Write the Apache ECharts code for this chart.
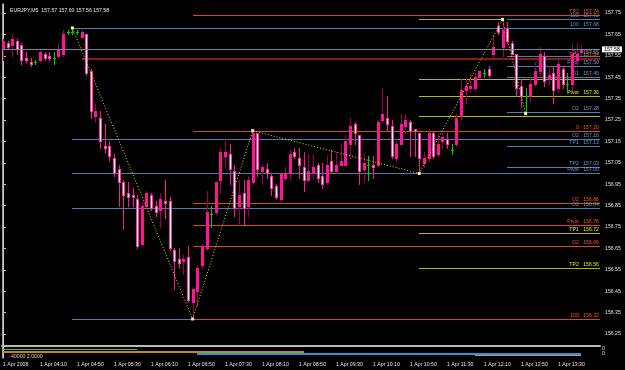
<!DOCTYPE html>
<html><head><meta charset="utf-8">
<script src="https://cdn.jsdelivr.net/npm/echarts@6/dist/echarts.min.js"></script>
<style>html,body{margin:0;padding:0;background:#000;}#c{width:625px;height:370px;}</style>
</head><body><div id="c"></div>
<script>
// ---------- DATA ----------
const openP = [157.58,157.61,157.60,157.62,157.60,157.54,157.52,157.52,157.53,157.56,
157.55,157.54,157.55,157.56,157.66,157.66,157.66,157.64,157.65,157.48,
157.27,157.26,157.13,157.13,157.07,157.02,156.96,156.91,156.90,156.88,
156.67,156.85,156.90,156.85,156.83,156.87,156.87,156.64,156.60,156.59,
156.61,156.40,156.45,156.57,156.65,156.81,156.82,156.97,157.08,157.09,
157.01,156.85,156.91,156.85,156.96,157.19,157.01,157.02,156.99,156.94,
156.88,156.98,157.00,157.10,157.07,157.03,156.97,157.00,157.04,156.99,
156.96,157.06,157.01,157.04,157.04,157.14,157.23,157.18,157.02,157.04,
157.04,157.04,157.25,157.26,157.22,157.07,157.14,157.22,157.24,157.21,
157.19,157.05,157.07,157.19,157.09,157.15,157.16,157.11,157.14,157.27,
157.39,157.40,157.40,157.45,157.47,157.49,157.56,157.69,157.59,157.68,
157.61,157.56,157.41,157.36,157.36,157.42,157.48,157.55,157.44,157.47,
157.40,157.49,157.42,157.42,157.53,157.57];
const highP = [157.63,157.62,157.65,157.63,157.61,157.57,157.54,157.53,157.58,157.57,
157.57,157.57,157.61,157.67,157.67,157.68,157.67,157.67,157.65,157.49,
157.33,157.29,157.23,157.15,157.09,157.04,156.97,156.96,156.93,156.90,
156.87,156.92,156.91,156.87,156.91,156.97,156.89,156.65,156.65,156.62,
156.66,156.47,156.57,156.67,156.92,156.85,156.96,157.12,157.16,157.14,
157.04,156.97,156.97,156.99,157.20,157.19,157.04,157.05,157.00,156.95,
157.00,157.03,157.11,157.12,157.12,157.10,157.09,157.09,157.05,157.05,
157.08,157.11,157.10,157.14,157.18,157.26,157.24,157.18,157.09,157.08,
157.08,157.25,157.40,157.36,157.25,157.16,157.28,157.28,157.25,157.21,
157.19,157.10,157.21,157.20,157.19,157.19,157.19,157.14,157.28,157.44,
157.44,157.47,157.47,157.48,157.49,157.50,157.65,157.71,157.72,157.71,
157.62,157.56,157.44,157.40,157.45,157.52,157.59,157.57,157.50,157.50,
157.53,157.50,157.47,157.61,157.61,157.60];
const lowP = [157.53,157.58,157.55,157.56,157.51,157.52,157.50,157.51,157.52,157.53,
157.53,157.51,157.54,157.55,157.65,157.65,157.65,157.64,157.46,157.26,
157.24,157.12,157.10,157.06,156.99,156.85,156.74,156.85,156.85,156.65,
156.66,156.84,156.83,156.80,156.75,156.79,156.64,156.46,156.56,156.53,
156.40,156.32,156.38,156.56,156.64,156.75,156.81,156.91,157.03,156.95,
156.80,156.76,156.76,156.80,156.95,156.99,156.95,156.98,156.90,156.88,
156.87,156.97,156.97,157.07,156.98,156.92,156.97,156.98,156.96,156.93,
156.95,157.00,157.00,157.04,157.04,157.07,157.14,156.95,156.96,156.97,
156.98,157.04,157.24,157.20,157.07,157.06,157.14,157.19,157.08,157.08,
157.00,157.03,157.06,157.07,157.08,157.12,157.12,157.09,157.13,157.25,
157.33,157.38,157.39,157.45,157.45,157.45,157.54,157.65,157.55,157.61,
157.56,157.36,157.31,157.29,157.34,157.41,157.46,157.41,157.42,157.33,
157.38,157.40,157.38,157.39,157.50,157.56];
const closeP = [157.62,157.59,157.63,157.58,157.53,157.53,157.51,157.52,157.57,157.54,
157.54,157.54,157.58,157.65,157.66,157.66,157.66,157.66,157.47,157.29,
157.29,157.15,157.12,157.08,157.00,156.96,156.90,156.89,156.89,156.66,
156.85,156.91,156.84,156.82,156.88,156.86,156.65,156.59,156.58,156.60,
156.41,156.46,156.56,156.66,156.82,156.81,156.96,157.10,157.10,157.02,
156.84,156.90,156.84,156.97,157.19,157.02,157.03,157.00,156.93,156.89,
157.00,157.00,157.09,157.08,157.04,156.97,157.01,157.03,156.98,156.95,
157.04,157.01,157.04,157.06,157.15,157.22,157.19,157.01,157.05,157.04,
157.03,157.24,157.28,157.23,157.08,157.14,157.23,157.25,157.20,157.20,
157.07,157.07,157.19,157.08,157.14,157.17,157.14,157.11,157.26,157.39,
157.41,157.41,157.45,157.48,157.47,157.46,157.59,157.66,157.67,157.62,
157.56,157.40,157.36,157.36,157.42,157.48,157.56,157.43,157.46,157.39,
157.51,157.42,157.42,157.56,157.56,157.58];

const timeTickBars = [0,8,16,24,32,40,48,56,64,72,80,88,96,104,112,120];
const timeTickLabels = ['1 Apr 2008','1 Apr 04:10','1 Apr 04:50','1 Apr 05:30','1 Apr 06:10','1 Apr 06:50',
  '1 Apr 07:30','1 Apr 08:10','1 Apr 08:50','1 Apr 09:30','1 Apr 10:10','1 Apr 10:50','1 Apr 11:30',
  '1 Apr 12:10','1 Apr 12:50','1 Apr 13:30'];
const priceTicks = [156.25,156.35,156.45,156.55,156.65,156.75,156.85,156.95,157.05,157.15,157.25,157.35,157.45,157.55,157.65,157.75];

const zigzagBars = [15,41,54,90,108,113];
const zigzagPrices = [157.68,156.32,157.20,157.00,157.72,157.28];

const bidPrice = 157.58;
const titleText = 'EURJPY,M5  157.57 157.60 157.56 157.58';

// level lines: name, price, first bar, last bar (null = right edge), group
const levelNames  = ['TP2','100','','100','O1','TP1','Pivot','O1','','Pivot','O2','','0','O2','TP1','TP2','Pivot','O2','O2','Pivot','TP1','O2','TP2','','100'];
const levelPrices = [157.74,157.72,157.72,157.68,157.55,157.535,157.50,157.45,157.44,157.36,157.285,157.27,157.20,157.16,157.13,157.03,157.00,156.86,156.84,156.76,156.72,156.66,156.56,156.32,156.32];
const levelLabelPrices = ['157.74','157.72','','157.68','157.55','157.54','157.50','157.45','','157.36','157.28','','157.20','157.16','157.13','157.03','157.00','156.86','156.84','156.76','156.72','156.66','156.56','','156.32'];
const levelFrom   = [41,109,90,15,109,17,109,109,90,90,109,90,41,15,109,109,15,41,15,41,90,41,90,15,41];
const levelTo     = [null,null,108,null,null,null,null,null,null,null,null,null,null,null,null,null,null,null,null,null,null,null,null,41,null];
const levelGroup  = ['orange','steel','yellow','steel','steel','red','steel','steel','yellow','yellow','steel','yellow','orange','steel','steel','steel','steel','orange','steel','orange','yellow','orange','yellow','steel','orange'];

// indicator sub-window lines
const subNames  = ['green','orange','blue','salmon'];
const subValues = [9.5, 7, 4.8, 2.8];
const subFrom   = [0, 0, 42, 102];
const subTo     = [29, 65, 125, 125];
const subLegend = '40000 2.0000';

// ---------- STYLE ----------
const X_MIN = -0.216, X_MAX = 129.08;
const Y_MIN = 156.196, Y_MAX = 157.792;
const FONT = 'Liberation Sans';
const FS = 5.2;
const PINK = '#FF1493', PINK_EDGE = '#FF2FA0', BULL_WICK = '#9A0050', DOJI = '#00D000';
const groupLine = {orange:'#D9481C', steel:'#4A7DB0', yellow:'#B9B900', red:'#8E1810'};
const groupText = {orange:'#FF5522', steel:'#6A96C8', yellow:'#E8E800', red:'#FF5522'};
const subColors = {green:'#32CD32', orange:'#C8860E', blue:'#1E9BE0', salmon:'#FA8072'};
const subWidths = {green:1, orange:2, blue:2, salmon:1};

const candleData = openP.map((o, i) => [i, o, closeP[i], lowP[i], highP[i]]);
const levelData = levelPrices.map((p, k) => [levelFrom[k], levelTo[k] == null ? X_MAX : levelTo[k], p, k]);
const subData = subValues.map((v, k) => [subFrom[k], subTo[k], v, k]);

function renderCandle(params, api) {
  const i = api.value(0), o = api.value(1), c = api.value(2), l = api.value(3), h = api.value(4);
  const pO = api.coord([i, o]), pC = api.coord([i, c]), pL = api.coord([i, l]), pH = api.coord([i, h]);
  const x = Math.round(pO[0]);
  const yH = Math.round(pH[1]), yL = Math.round(pL[1]);
  const yO = Math.round(pO[1]), yC = Math.round(pC[1]);
  const ch = [];
  if (o === c) {
    ch.push({type:'rect', shape:{x:x, y:yH, width:1, height:Math.max(1, yL - yH + 1)}, style:{fill:DOJI}});
    ch.push({type:'rect', shape:{x:x-1, y:yO, width:3, height:1}, style:{fill:DOJI}});
  } else {
    const bull = c > o;
    ch.push({type:'rect', shape:{x:x, y:yH, width:1, height:Math.max(1, yL - yH + 1)}, style:{fill: bull ? BULL_WICK : PINK}});
    const top = Math.min(yO, yC), hgt = Math.max(1, Math.abs(yO - yC) + 1);
    ch.push({type:'rect', shape:{x:x-1, y:top, width:3, height:hgt}, style:{fill: bull ? PINK : PINK_EDGE}});
    if (!bull && hgt > 2) ch.push({type:'rect', shape:{x:x, y:top+1, width:1, height:hgt-2}, style:{fill:'#FFFFFF'}});
  }
  return {type:'group', children:ch};
}

function renderLevel(params, api) {
  const k = api.value(3);
  const s = api.coord([api.value(0), api.value(2)]);
  const e = api.coord([api.value(1), api.value(2)]);
  const g = levelGroup[k];
  const y = Math.round(s[1]);
  const w = g === 'red' ? 2 : 1;
  const x0 = Math.round(s[0]), x1 = Math.round(e[0]);
  const ch = [{type:'rect', shape:{x:x0, y:y - (w - 1), width:x1 - x0, height:w}, style:{fill:groupLine[g]}}];
  if (levelNames[k]) {
    ch.push({type:'text', x: x1 - 1, y: y - w,
      style:{text: levelNames[k] + '   ' + levelLabelPrices[k], fill: groupText[g], align:'right', verticalAlign:'bottom',
             fontSize: FS, fontFamily: FONT}});
  }
  return {type:'group', children:ch};
}

function renderSub(params, api) {
  const k = api.value(3);
  const s = api.coord([api.value(0), api.value(2)]);
  const e = api.coord([api.value(1), api.value(2)]);
  const w = subWidths[subNames[k]];
  const y = Math.round(s[1]);
  return {type:'rect', shape:{x:Math.round(s[0]), y:y, width:Math.round(e[0]) - Math.round(s[0]), height:w},
          style:{fill:subColors[subNames[k]]}};
}

const chart = echarts.init(document.getElementById('c'), null, {renderer:'canvas'});
const axisTextColor = '#E0E0E0';
chart.setOption({
  animation: false,
  backgroundColor: '#000000',
  title: [
    {text: titleText, left: 5, top: 3, textStyle:{color:'#E8E8E8', fontSize:FS, fontWeight:'normal', fontFamily:FONT}},
    {text: subLegend, left: 6, top: 349, textStyle:{color:'#D0D0D0', fontSize:FS, fontWeight:'normal', fontFamily:FONT}}
  ],
  grid: [
    {left: 2, right: 25, top: 4, height: 341.5},
    {left: 2, right: 25, top: 347, height: 11}
  ],
  xAxis: [
    {type:'value', gridIndex:0, min:X_MIN, max:X_MAX, position:'bottom',
     axisLine:{show:true, lineStyle:{color:'#B8B8B8', width:2}}, axisTick:{show:false}, axisLabel:{show:false}, splitLine:{show:false}},
    {type:'value', gridIndex:1, min:X_MIN, max:X_MAX, position:'bottom',
     axisLine:{show:false}, axisTick:{show:false}, splitLine:{show:false},
     axisLabel:{show:true, customValues: timeTickBars, align:'left', margin:4, color:axisTextColor, fontSize:FS, fontFamily:FONT,
       formatter: (v) => { const k = timeTickBars.indexOf(Math.round(v)); return k >= 0 ? timeTickLabels[k] : ''; }}}
  ],
  yAxis: [
    {type:'value', gridIndex:0, min:Y_MIN, max:Y_MAX, position:'right', scale:true,
     axisLine:{show:true, lineStyle:{color:'#C8C8C8', width:1}},
     axisTick:{show:true, length:3, customValues: priceTicks, lineStyle:{color:'#C8C8C8'}},
     axisLabel:{show:true, customValues: priceTicks, margin:5, color:axisTextColor, fontSize:FS, fontFamily:FONT, formatter:(v)=>v.toFixed(2)},
     splitLine:{show:false}},
    {type:'value', gridIndex:0, min:Y_MIN, max:Y_MAX, position:'left', scale:true,
     axisLine:{show:true, lineStyle:{color:'#A0A0A0', width:1}}, axisTick:{show:false}, axisLabel:{show:false}, splitLine:{show:false}},
    {type:'value', gridIndex:1, min:0, max:11, position:'right',
     axisLine:{show:true, lineStyle:{color:'#C8C8C8', width:1}},
     axisTick:{show:false},
     axisLabel:{show:true, customValues:[9, 4], margin:2, color:axisTextColor, fontSize:FS, fontFamily:FONT, formatter:()=> '0'},
     splitLine:{show:false}},
    {type:'value', gridIndex:1, min:0, max:11, position:'left',
     axisLine:{show:true, lineStyle:{color:'#A0A0A0', width:1}}, axisTick:{show:false}, axisLabel:{show:false}, splitLine:{show:false}}
  ],
  series: [
    {type:'custom', name:'levels', xAxisIndex:0, yAxisIndex:0, renderItem: renderLevel, data: levelData,
     encode:{x:[0,1], y:2}, z:2, silent:true, clip:false},
    {type:'line', name:'bid', xAxisIndex:0, yAxisIndex:0, data:[], z:3, silent:true,
     markLine:{silent:true, symbol:['none','none'], animation:false,
       lineStyle:{color:'#76879A', width:1, type:'solid'},
       label:{show:true, position:'end', distance:2, formatter: bidPrice.toFixed(2), backgroundColor:'#FFFFFF', color:'#000000',
              fontSize:FS, fontFamily:FONT, padding:[1,2,0,2]},
       data:[{yAxis: bidPrice}]}},
    {type:'custom', name:'candles', xAxisIndex:0, yAxisIndex:0, renderItem: renderCandle, data: candleData,
     encode:{x:0, y:[1,2,3,4]}, z:4, silent:true},
    {type:'line', name:'zigzag', xAxisIndex:0, yAxisIndex:0, data: zigzagBars.map((b,i)=>[b, zigzagPrices[i]]),
     symbol:'rect', symbolSize:3, itemStyle:{color:'#F4F4B0'},
     lineStyle:{color:'#E6E600', width:1, type:[1,2]}, z:5, silent:true},
    {type:'custom', name:'sub', xAxisIndex:1, yAxisIndex:2, renderItem: renderSub, data: subData,
     encode:{x:[0,1], y:2}, silent:true}
  ]
});
</script>
</body></html>
